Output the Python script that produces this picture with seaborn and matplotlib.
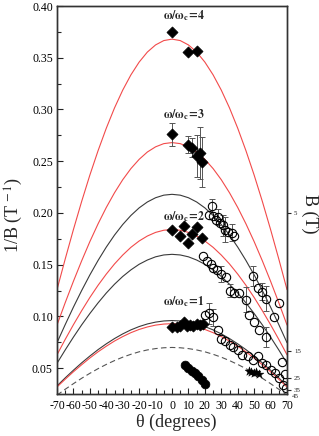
import numpy as np
import pandas as pd
import matplotlib
matplotlib.use("Agg")
import matplotlib.pyplot as plt
import matplotlib.ticker as mticker
import matplotlib.transforms as mtransforms
import seaborn as sns

# ─── Data ─────────────────────────────────────────────────────────────────────

# fitted curves, sampled for theta = 0..70 (symmetric about 0)
CURVE_THETA = [0, 5, 10, 15, 20, 25, 30, 35, 40, 45, 50, 55, 60, 65, 70]
RED_W4 = [0.368, 0.3666, 0.3624, 0.3555, 0.3458, 0.3335, 0.3187, 0.3015, 0.2819, 0.2602, 0.2366, 0.2111, 0.184, 0.1555, 0.1259]
RED_W3 = [0.268, 0.2670, 0.2639, 0.2589, 0.2518, 0.2429, 0.2321, 0.2195, 0.2053, 0.1895, 0.1723, 0.1537, 0.134, 0.1133, 0.0917]
BLK_A = [0.218, 0.2172, 0.2147, 0.2106, 0.2049, 0.1976, 0.1888, 0.1786, 0.1670, 0.1541, 0.1401, 0.1250, 0.109, 0.0921, 0.0746]
RED_W2 = [0.184, 0.1833, 0.1812, 0.1777, 0.1729, 0.1668, 0.1593, 0.1507, 0.1409, 0.1301, 0.1183, 0.1055, 0.092, 0.0778, 0.0629]
BLK_B = [0.160, 0.1594, 0.1576, 0.1545, 0.1504, 0.1450, 0.1386, 0.1311, 0.1226, 0.1131, 0.1028, 0.0918, 0.080, 0.0676, 0.0547]
BLK_C = [0.096, 0.0956, 0.0945, 0.0927, 0.0902, 0.0870, 0.0831, 0.0786, 0.0735, 0.0679, 0.0617, 0.0551, 0.048, 0.0406, 0.0328]
RED_W1 = [0.093, 0.0926, 0.0916, 0.0898, 0.0874, 0.0843, 0.0805, 0.0762, 0.0712, 0.0658, 0.0598, 0.0533, 0.0465, 0.0393, 0.0318]
DASHED = [0.070, 0.0697, 0.0689, 0.0676, 0.0658, 0.0634, 0.0606, 0.0573, 0.0536, 0.0495, 0.0450, 0.0402, 0.035, 0.0296, 0.0239]

# filled diamonds
D4_THETA = [0, 10, 15]
D4_VAL = [0.375, 0.356, 0.357]
D3_THETA = [0, 10, 12, 15, 17, 18]
D3_VAL = [0.276, 0.266, 0.263, 0.255, 0.258, 0.249]
D3_ERR = [0.011, 0.008, 0.009, 0.020, 0.025, 0.024]
D2_THETA = [0, 5, 7, 10, 12, 15, 18]
D2_VAL = [0.184, 0.178, 0.187, 0.171, 0.180, 0.186, 0.176]
D1_THETA = [0, 3, 5, 7, 9, 11, 13, 15, 17, 19]
D1_VAL = [0.090, 0.090, 0.091, 0.095, 0.091, 0.092, 0.091, 0.093, 0.092, 0.093]

# open circles (with some error bars)
OA_THETA = [22.5, 24.5, 25, 26.5, 28, 29.5, 31, 32.5, 34, 36.5, 37.5, 49, 52.5, 55, 57.5, 62, 65]
OA_VAL = [0.198, 0.207, 0.197, 0.193, 0.196, 0.190, 0.188, 0.184, 0.182, 0.181, 0.178,
          0.139, 0.127, 0.124, 0.117, 0.0995, 0.113]
OA_ERR = [0, 0.006, 0, 0, 0.008, 0, 0.010, 0.012, 0, 0.008, 0, 0.010, 0, 0.008, 0.012, 0, 0]
OB_THETA = [19, 21, 24, 25, 27.5, 30, 33, 35, 38, 40.5, 45, 47, 50, 53, 57]
OB_VAL = [0.158, 0.154, 0.151, 0.147, 0.145, 0.141, 0.138, 0.125, 0.123, 0.123, 0.116,
          0.101, 0.095, 0.087, 0.080]
OB_ERR = [0, 0, 0, 0, 0, 0.008, 0, 0.006, 0, 0, 0.012, 0, 0, 0, 0.010]
OC_THETA = [20, 22.5, 25, 28, 30, 32, 35, 37, 40, 42.5, 46, 49.5, 52.5, 55, 57, 60, 62.5,
            65, 67, 67.5, 69, 69.5]
OC_VAL = [0.101, 0.103, 0.099, 0.087, 0.078, 0.076, 0.072, 0.070, 0.068, 0.0625, 0.062,
          0.058, 0.0616, 0.0545, 0.053, 0.048, 0.045, 0.040, 0.056, 0.034, 0.044, 0.031]
OC_ERR = [0, 0.010, 0.008, 0, 0, 0, 0, 0, 0, 0, 0, 0, 0, 0, 0, 0, 0, 0, 0, 0, 0, 0]

# filled circles and stars
FC_THETA = [8, 10, 12, 14, 16, 18, 20]
FC_VAL = [0.053, 0.050, 0.047, 0.045, 0.042, 0.039, 0.035]
ST_THETA = [47, 48, 50, 51, 53]
ST_VAL = [0.047, 0.046, 0.045, 0.046, 0.044]

# right axis: B (T)
B_TICKS = [5, 15, 25, 35]

LABELS = ["4", "3", "2", "1"]
LABEL_POS = [0.391, 0.2955, 0.196, 0.114]

# ─── Style ────────────────────────────────────────────────────────────────────
sns.set_theme(style="ticks")
plt.rcParams.update({
    "font.family": ["Liberation Serif", "DejaVu Serif"],
    "mathtext.fontset": "stix",
    "axes.unicode_minus": False,
    "axes.linewidth": 1.0,
    "axes.edgecolor": "#333333",
    "figure.facecolor": "white",
    "axes.facecolor": "white",
})

RED = "#f24a4a"
BLK = "#3a3a3a"

fig = plt.figure(figsize=(3.19, 4.36), dpi=100)
ax = fig.add_axes([0.1787, 0.0963, 0.7210, 0.8899])

half = np.array(CURVE_THETA)
theta_full = np.concatenate([-half[:0:-1], half])

curves = [
    (RED_W4, RED, "-"), (RED_W3, RED, "-"), (BLK_A, BLK, "-"), (RED_W2, RED, "-"),
    (BLK_B, BLK, "-"), (BLK_C, BLK, "-"), (RED_W1, RED, "-"), (DASHED, "#555555", "--"),
]
for vals, col, ls in curves:
    v = np.array(vals)
    v_full = np.concatenate([v[:0:-1], v])
    df = pd.DataFrame({"theta": theta_full, "invB": v_full})
    sns.lineplot(data=df, x="theta", y="invB", color=col, lw=0.8,
                 estimator=None, sort=False, ax=ax, zorder=2)
    if ls == "--":
        ax.lines[-1].set_dashes((5, 3))

# error bars
ebkw = dict(fmt="none", ecolor="#555555", elinewidth=0.7, capsize=2.2, capthick=0.7, zorder=3)
ax.errorbar(D3_THETA, D3_VAL, yerr=D3_ERR, **ebkw)
for th, va, er in [(OA_THETA, OA_VAL, OA_ERR), (OB_THETA, OB_VAL, OB_ERR), (OC_THETA, OC_VAL, OC_ERR)]:
    m = np.array(er) > 0
    ax.errorbar(np.array(th)[m], np.array(va)[m], yerr=np.array(er)[m], **ebkw)

# diamonds
dia = pd.DataFrame({
    "theta": D4_THETA + D3_THETA + D2_THETA + D1_THETA,
    "invB": D4_VAL + D3_VAL + D2_VAL + D1_VAL,
})
sns.scatterplot(data=dia, x="theta", y="invB", marker="D", s=32, color="black",
                edgecolor="black", linewidth=0.5, ax=ax, zorder=4)

# open circles
for th, va in [(OA_THETA, OA_VAL), (OB_THETA, OB_VAL), (OC_THETA, OC_VAL)]:
    ax.plot(th, va, "o", ms=6.0, mfc="none", mec="black", mew=0.8, zorder=4)

# filled circles and stars
sns.scatterplot(x=FC_THETA, y=FC_VAL, marker="o", s=40, color="black",
                edgecolor="black", ax=ax, zorder=4)
sns.scatterplot(x=ST_THETA, y=ST_VAL, marker="*", s=45, color="black",
                edgecolor="black", linewidth=0.3, ax=ax, zorder=4)

# omega labels
for lab, yv in zip(LABELS, LABEL_POS):
    ax.text(-5.5, yv, r"$\mathbf{\omega/\omega_c\!=\!" + lab + "}$",
            fontsize=8.5, va="center", ha="left", zorder=5)

# axes
ax.set_xlim(-70, 70)
ax.set_ylim(0.025, 0.40)
ax.xaxis.set_major_locator(mticker.MultipleLocator(10))
ax.xaxis.set_minor_locator(mticker.MultipleLocator(5))
ax.yaxis.set_major_locator(mticker.MultipleLocator(0.05))
ax.yaxis.set_minor_locator(mticker.MultipleLocator(0.025))
ax.yaxis.set_major_formatter(mticker.FormatStrFormatter("%.2f"))
ax.tick_params(axis="both", which="major", direction="in", length=4, width=0.8,
               labelsize=8.5, colors="#222222", pad=3, top=False, right=False)
ax.tick_params(axis="both", which="minor", direction="in", length=3, width=0.8,
               top=False, right=False)
ax.tick_params(axis="x", which="major", pad=4)
for lbl in ax.get_xticklabels() + ax.get_yticklabels():
    lbl.set_color("black")

ax.set_xlabel("θ (degrees)", fontsize=13, va="center")
ax.xaxis.set_label_coords(0.52, -0.072)
ax.set_ylabel(r"1/B (T$^{\,-1}$)", fontsize=13, va="center")
ax.yaxis.set_label_coords(-0.187, 0.46)

# right axis in B (T)
ax2 = ax.twinx()
ax2.set_ylim(ax.get_ylim())
ax2.set_yticks([1.0 / b for b in B_TICKS])
ax2.set_yticklabels([str(b) for b in B_TICKS])
ax2.yaxis.set_minor_locator(mticker.NullLocator())
ax2.tick_params(axis="y", direction="out", length=3, width=0.8, labelsize=5, pad=2)
trans = mtransforms.blended_transform_factory(ax2.transAxes, ax2.transData)
ax2.text(1.0 + 5.0 / 230, 1.0 / 45, "45", transform=trans, fontsize=5,
         va="center", ha="left", clip_on=False)
ax2.set_ylabel("B (T)", fontsize=13, rotation=270, va="center")
ax2.yaxis.set_label_coords(1.10, 0.464)
ax2.grid(False)
ax.grid(False)

plt.savefig("out.png", dpi=100)
